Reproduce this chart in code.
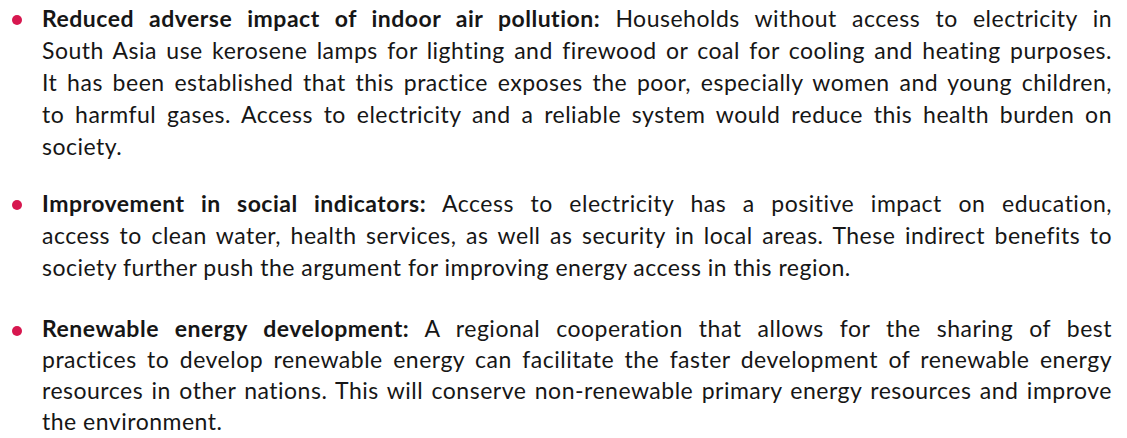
<!DOCTYPE html>
<html>
<head>
<meta charset="utf-8">
<script src="https://cdn.jsdelivr.net/npm/chart.js@4"></script>
<style>
  body {
    margin: 0;
    width: 1127px;
    height: 438px;
    background: #fff;
    overflow: hidden;
    font-family: "Lato", sans-serif;
    font-size: 23px;
    letter-spacing: 0.5px;
    color: #161616;
  }
  #text {
    position: absolute;
    left: 42px;
    top: 2px;
    width: 1070px;
  }
  .item {
    position: relative;
    margin-bottom: 25px;
  }
  .item:nth-child(2) { margin-bottom: 30px; }
  .item::before {
    content: "";
    position: absolute;
    left: -30px;
    top: 13px;
    width: 10px;
    height: 10px;
    border-radius: 50%;
    background: #d7174f;
  }
  .line {
    height: 32px;
    line-height: 32px;
    white-space: nowrap;
    text-align: justify;
    text-align-last: justify;
  }
  .item:nth-child(3) .line {
    height: 31px;
    line-height: 31px;
  }
  .line.last {
    text-align-last: left;
  }
  b { font-weight: 700; }
</style>
</head>
<body>
<div id="text"></div>
<script>
// bold lead-in of each bullet
const headings = [
  "Reduced adverse impact of indoor air pollution:",
  "Improvement in social indicators:",
  "Renewable energy development:"
];

// body text, line by line as in the original
const pollutionLines = [
  "Households without access to electricity in",
  "South Asia use kerosene lamps for lighting and firewood or coal for cooling and heating purposes.",
  "It has been established that this practice exposes the poor, especially women and young children,",
  "to harmful gases. Access to electricity and a reliable system would reduce this health burden on",
  "society."
];
const socialLines = [
  "Access to electricity has a positive impact on education,",
  "access to clean water, health services, as well as security in local areas. These indirect benefits to",
  "society further push the argument for improving energy access in this region."
];
const renewableLines = [
  "A regional cooperation that allows for the sharing of best",
  "practices to develop renewable energy can facilitate the faster development of renewable energy",
  "resources in other nations. This will conserve non-renewable primary energy resources and improve",
  "the environment."
];

const bodies = [pollutionLines, socialLines, renewableLines];
const box = document.getElementById("text");

headings.forEach((h, i) => {
  const item = document.createElement("div");
  item.className = "item";
  bodies[i].forEach((txt, j) => {
    const line = document.createElement("div");
    line.className = "line" + (j === bodies[i].length - 1 ? " last" : "");
    if (j === 0) {
      const b = document.createElement("b");
      b.textContent = h;
      line.appendChild(b);
      line.appendChild(document.createTextNode(" " + txt));
    } else {
      line.textContent = txt;
    }
    item.appendChild(line);
  });
  box.appendChild(item);
});
</script>
</body>
</html>
